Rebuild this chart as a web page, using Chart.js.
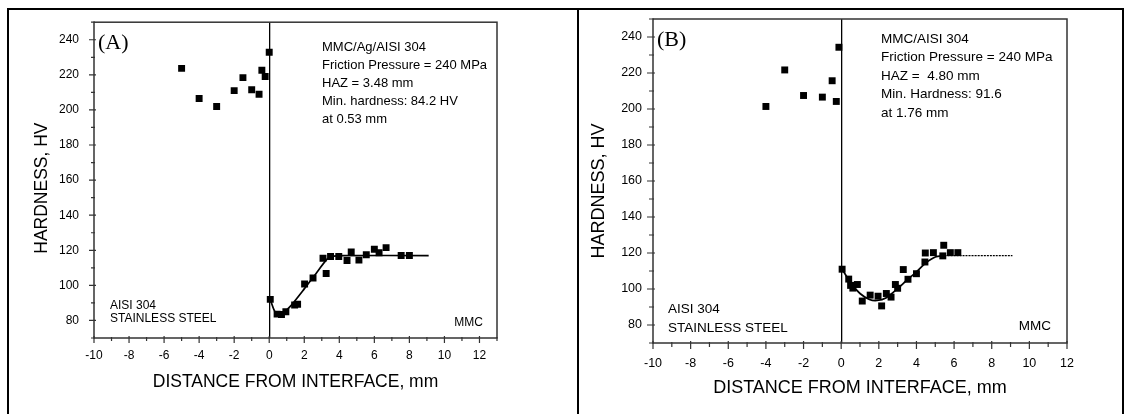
<html>

<head>
    <title>Hardness profiles</title>
    <script src="https://cdn.jsdelivr.net/npm/chart.js@4"></script>
    <style>
        body { margin: 0; background: #fff; width: 1126px; height: 414px; overflow: hidden; position: relative; }
        canvas { position: absolute; top: 0; }
        #frame { position: absolute; left: 7px; top: 8px; width: 1117px; height: 410px; border: 2px solid #000; box-sizing: border-box; }
        #divider { position: absolute; left: 577px; top: 8px; width: 2px; height: 406px; background: #000; }
    </style>
</head>

<body>
    <div id="frame"></div>
    <div id="divider"></div>
    <canvas id="chartA" width="577" height="414" style="left:0"></canvas>
    <canvas id="chartB" width="547" height="414" style="left:579px"></canvas>

    <script>
        const xTicks = [-10, -8, -6, -4, -2, 0, 2, 4, 6, 8, 10, 12]
        const yTicks = [80, 100, 120, 140, 160, 180, 200, 220, 240]

        // (A) MMC/Ag/AISI 304
        const aSteelX = [-5, -4, -3, -2, -1.5, -1, -0.58, -0.42, -0.23, 0.0]
        const aSteelY = [223.7, 206.5, 201.9, 211, 218.4, 211.5, 208.9, 222.6, 219, 232.9]
        const aMmcX = [0.06, 0.45, 0.7, 0.95, 1.45, 1.62, 2.02, 2.5, 3.07, 3.25, 3.5, 3.97, 4.44, 4.68, 5.12, 5.54, 6.0, 6.27, 6.67, 7.53, 8.0]
        const aMmcY = [92, 83.6, 83.4, 85, 88.8, 89.2, 100.8, 104.2, 115.5, 106.8, 116.5, 116.5, 114.2, 119, 114.4, 117.5, 120.6, 118.6, 121.5, 117, 117]
        const aFitX = [0.06, 0.3, 0.5, 0.8, 1.2, 2.0, 2.8, 3.3, 3.6, 4.2, 9.1]
        const aFitY = [92, 85.5, 83.6, 84.3, 88, 98, 108.5, 115, 116.6, 117, 117]

        // (B) MMC/AISI 304
        const bSteelX = [-4, -3, -2, -1, -0.48, -0.26, -0.12]
        const bSteelY = [201.4, 221.7, 207.5, 206.6, 215.7, 204.2, 234.3]
        const bMmcX = [0.05, 0.4, 0.5, 0.62, 0.86, 1.12, 1.54, 1.96, 2.15, 2.4, 2.65, 2.88, 3.0, 3.3, 3.55, 4.0, 4.45, 4.47, 4.9, 5.4, 5.45, 5.8, 6.2]
        const bMmcY = [111, 105.5, 102, 100.5, 102.5, 93.3, 96.6, 96, 90.6, 97.5, 95.5, 102.5, 100.4, 110.8, 105.4, 108.5, 115, 120, 120.2, 118.4, 124.3, 120.2, 120.2]
        const bFitX = [0.05, 0.5, 1.0, 1.5, 1.9, 2.4, 3.0, 3.5, 4.0, 4.5, 5.0, 5.5]
        const bFitY = [111, 103.5, 97.5, 94.2, 93.6, 95.2, 100.2, 105, 109.5, 114.5, 117.8, 118.5]
        const bTailX = [5.5, 9.1]
        const bTailY = [118.5, 118.5]

        const sans = "'Liberation Sans', Arial, sans-serif"
        const zip = (xs, ys) => xs.map((x, i) => ({ x, y: ys[i] }))

        const marks = (xs, ys) => ({
            type: 'scatter', data: zip(xs, ys), pointStyle: 'rect', pointRadius: 4.9,
            backgroundColor: '#000', borderWidth: 0, order: 1,
        })
        const curve = (xs, ys, dash) => ({
            type: 'scatter', data: zip(xs, ys), showLine: true, pointRadius: 0,
            borderColor: '#000', borderWidth: dash ? 1.3 : 1.7, borderDash: dash || [],
            tension: 0.25, order: 2,
        })

        // frame, inside/outside tick marks, y title and the text notes
        const decoPlugin = {
            id: 'deco',
            afterDraw(chart, args, o) {
                const { ctx, chartArea: a, scales: { x, y } } = chart
                ctx.save()
                ctx.strokeStyle = '#333'
                ctx.lineWidth = 1.5
                ctx.strokeRect(a.left, a.top, a.right - a.left, a.bottom - a.top)
                ctx.lineWidth = 1.2
                ctx.beginPath()
                for (let v = Math.ceil(x.min); v <= x.max; v++) {
                    const px = x.getPixelForValue(v)
                    const big = v % 2 === 0
                    ctx.moveTo(px, a.bottom - (big ? 2 : 1))
                    ctx.lineTo(px, a.bottom + (big ? o.tick : o.tick - 2))
                }
                for (let v = y.min; v <= y.max; v += 10) {
                    const py = y.getPixelForValue(v)
                    const big = v % 20 === 0
                    ctx.moveTo(a.left + (big ? 2 : 1), py)
                    ctx.lineTo(a.left - (big ? o.tick : o.tick - 2), py)
                }
                ctx.stroke()

                ctx.fillStyle = '#000'
                ctx.textBaseline = 'middle'

                ctx.save()
                ctx.translate(o.yTitleX, (a.top + a.bottom) / 2 + o.yTitleDy)
                ctx.rotate(-Math.PI / 2)
                ctx.textAlign = 'center'
                ctx.font = o.titleSize + 'px ' + sans
                ctx.fillText('HARDNESS, HV', 0, 0)
                ctx.restore()

                ctx.font = "22px 'Liberation Serif', 'Times New Roman', serif"
                ctx.fillText(o.panel, a.left + 4, a.top + o.panelDy)

                ctx.font = o.noteSize + 'px ' + sans
                o.notes.forEach((t, i) => ctx.fillText(t, a.left + 228, a.top + o.noteDy + i * o.noteGap))

                ctx.font = o.sideSize + 'px ' + sans
                ctx.fillText('AISI 304', a.left + o.sideDx, a.bottom - o.sideDy1)
                ctx.fillText('STAINLESS STEEL', a.left + o.sideDx, a.bottom - o.sideDy2)
                ctx.textAlign = 'right'
                ctx.fillText('MMC', a.right - o.mmcDx, a.bottom - o.mmcDy)
                ctx.restore()
            }
        }

        function makeChart(id, p) {
            return new Chart(document.getElementById(id), {
                data: { datasets: p.datasets },
                options: {
                    responsive: false,
                    animation: false,
                    devicePixelRatio: 1,
                    layout: { padding: { left: 0, top: p.top, right: p.right, bottom: 0 } },
                    plugins: { legend: { display: false }, tooltip: { enabled: false }, deco: p.deco },
                    scales: {
                        x: {
                            type: 'linear', min: -10, max: p.xMax,
                            afterBuildTicks: s => { s.ticks = xTicks.map(value => ({ value })) },
                            afterFit: s => { s.height = p.xH },
                            border: { display: false },
                            grid: {
                                drawTicks: false, lineWidth: 1.3,
                                color: c => (c.tick && c.tick.value === 0 ? '#000' : 'rgba(0,0,0,0)'),
                            },
                            ticks: { color: '#000', font: { family: sans, size: p.tickSize }, padding: p.xPad, maxRotation: 0, autoSkip: false },
                            title: {
                                display: true, text: 'DISTANCE FROM INTERFACE, mm', color: '#000',
                                font: { family: sans, size: p.deco.titleSize }, padding: { top: 0, bottom: p.xTitlePad },
                            },
                        },
                        y: {
                            type: 'linear', min: 70, max: 250,
                            afterBuildTicks: s => { s.ticks = yTicks.map(value => ({ value })) },
                            afterFit: s => { s.width = p.yW },
                            border: { display: false },
                            grid: { drawTicks: false, drawOnChartArea: false },
                            ticks: { color: '#000', font: { family: sans, size: p.tickSize }, padding: p.yPad },
                        },
                    },
                },
                plugins: [decoPlugin],
            })
        }

        makeChart('chartA', {
            datasets: [marks(aSteelX, aSteelY), marks(aMmcX, aMmcY), curve(aFitX, aFitY)],
            top: 16, right: 80, xMax: 13, xH: 76, yW: 94,
            tickSize: 12, xPad: 10.8, yPad: 15, xTitlePad: 21.5,
            deco: {
                tick: 5, panel: '(A)', panelDy: 21, titleSize: 17.5, yTitleX: 42, yTitleDy: 8,
                notes: ['MMC/Ag/AISI 304', 'Friction Pressure = 240 MPa', 'HAZ = 3.48 mm', 'Min. hardness: 84.2 HV', 'at 0.53 mm'],
                noteSize: 13, noteDy: 25, noteGap: 18,
                sideSize: 12, sideDx: 16, sideDy1: 32, sideDy2: 19, mmcDx: 14, mmcDy: 15,
            },
        })

        makeChart('chartB', {
            datasets: [marks(bSteelX, bSteelY), marks(bMmcX, bMmcY), curve(bFitX, bFitY), curve(bTailX, bTailY, [2, 1])],
            top: 19, right: 59, xMax: 12, xH: 71, yW: 74,
            tickSize: 12.5, xPad: 12.8, yPad: 11, xTitlePad: 15.5,
            deco: {
                tick: 6, panel: '(B)', panelDy: 21, titleSize: 18, yTitleX: 20, yTitleDy: 10,
                notes: ['MMC/AISI 304', 'Friction Pressure = 240 MPa', 'HAZ =  4.80 mm', 'Min. Hardness: 91.6', 'at 1.76 mm'],
                noteSize: 13.5, noteDy: 20, noteGap: 18.5,
                sideSize: 13.5, sideDx: 15, sideDy1: 34, sideDy2: 15, mmcDx: 16, mmcDy: 17,
            },
        })
    </script>
</body>

</html>
